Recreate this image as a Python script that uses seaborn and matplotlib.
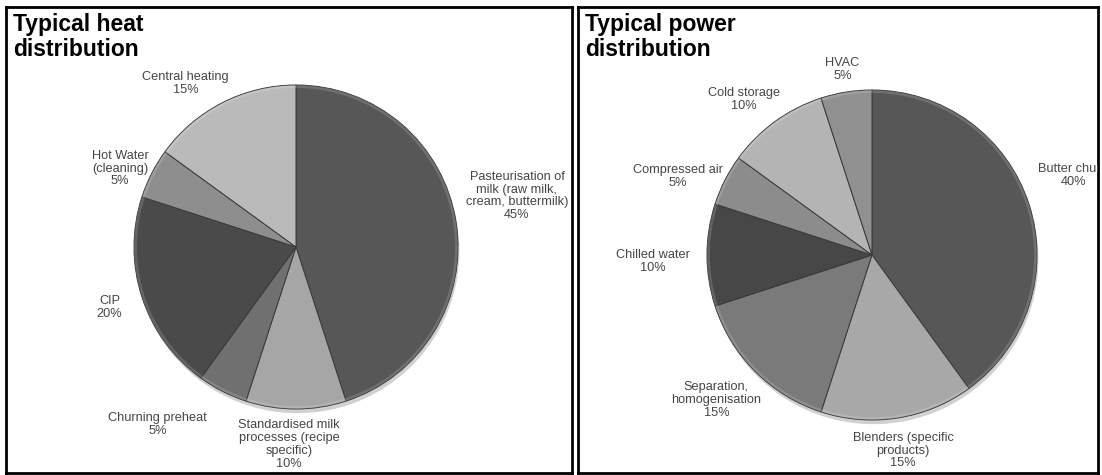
import numpy as np
import seaborn as sns
import matplotlib.pyplot as plt
import matplotlib.patheffects as pe
from matplotlib.patches import Circle

sns.set_theme(style='white')
plt.rcParams['font.family'] = ['Liberation Sans', 'DejaVu Sans']

# heat distribution (clockwise from 12 o'clock)
heat_labels = ['Pasteurisation of\nmilk (raw milk,\ncream, buttermilk)',
               'Standardised milk\nprocesses (recipe\nspecific)',
               'Churning preheat', 'CIP', 'Hot Water\n(cleaning)', 'Central heating']
heat_values = [45, 10, 5, 20, 5, 15]
heat_colors = ['#575757', '#a6a6a6', '#707070', '#4a4a4a', '#8e8e8e', '#bababa']

# power distribution (clockwise from 12 o'clock)
power_labels = ['Butter churn', 'Blenders (specific\nproducts)', 'Separation,\nhomogenisation',
                'Chilled water', 'Compressed air', 'Cold storage', 'HVAC']
power_values = [40, 15, 15, 10, 5, 10, 5]
power_colors = ['#575757', '#a8a8a8', '#7a7a7a', '#474747', '#8c8c8c', '#b4b4b4', '#909090']

W, H = 1102, 475
fig = plt.figure(figsize=(W / 100, H / 100), dpi=100)


def panel(x0, x1, y0, y1, title, values, labels, colors, cx, cy, r, dist, nudge):
    ax = fig.add_axes([x0 / W, 1 - y1 / H, (x1 - x0) / W, (y1 - y0) / H])
    # data units == pixels, y pointing up
    c = (cx, H - cy)
    back = Circle(c, r, facecolor='#888888', edgecolor='none', zorder=0,
                  path_effects=[pe.SimplePatchShadow(offset=(1, -3), shadow_rgbFace='k', alpha=0.2),
                                pe.Normal()])
    ax.add_patch(back)
    wedges, _ = ax.pie(values, colors=colors, startangle=90, counterclock=False,
                       center=c, radius=r, frame=True,
                       wedgeprops=dict(edgecolor='#3a3a3a', linewidth=0.7))
    # soft light rim for the bevelled look
    ax.add_patch(Circle(c, r - 1.5, facecolor='none', edgecolor='white', alpha=0.15, lw=2, zorder=3))
    for w, lab, v, d, n in zip(wedges, labels, values, dist, nudge):
        a = np.deg2rad((w.theta1 + w.theta2) / 2 + n)
        ax.text(c[0] + d * r * np.cos(a), c[1] + d * r * np.sin(a), f'{lab}\n{v}%',
                ha='center', va='center', multialignment='center', fontsize=9.2,
                color='#454545', linespacing=1.1, clip_on=True)
    ax.set_xlim(x0, x1)
    ax.set_ylim(H - y1, H - y0)
    ax.set_xticks([])
    ax.set_yticks([])
    for s in ax.spines.values():
        s.set_visible(True)
        s.set_color('black')
        s.set_linewidth(2)
    ax.text(x0 + 7, H - y0 - 6, title, ha='left', va='top', fontsize=16.5,
            fontweight='bold', color='black', linespacing=1.1)
    return ax


panel(6, 572, 7, 473, 'Typical heat\ndistribution', heat_values, heat_labels, heat_colors,
      296, 247, 162,
      dist=[1.40, 1.22, 1.39, 1.21, 1.19, 1.22],
      nudge=[4, -2, -11, 0, 3, 7])

panel(578, 1098, 7, 473, 'Typical power\ndistribution', power_values, power_labels, power_colors,
      872, 255, 165,
      dist=[1.31, 1.20, 1.29, 1.33, 1.27, 1.22, 1.14],
      nudge=[3.5, 0, -2, 1.6, 5, 3.6, 0])

fig.savefig('out.png', dpi=100)
